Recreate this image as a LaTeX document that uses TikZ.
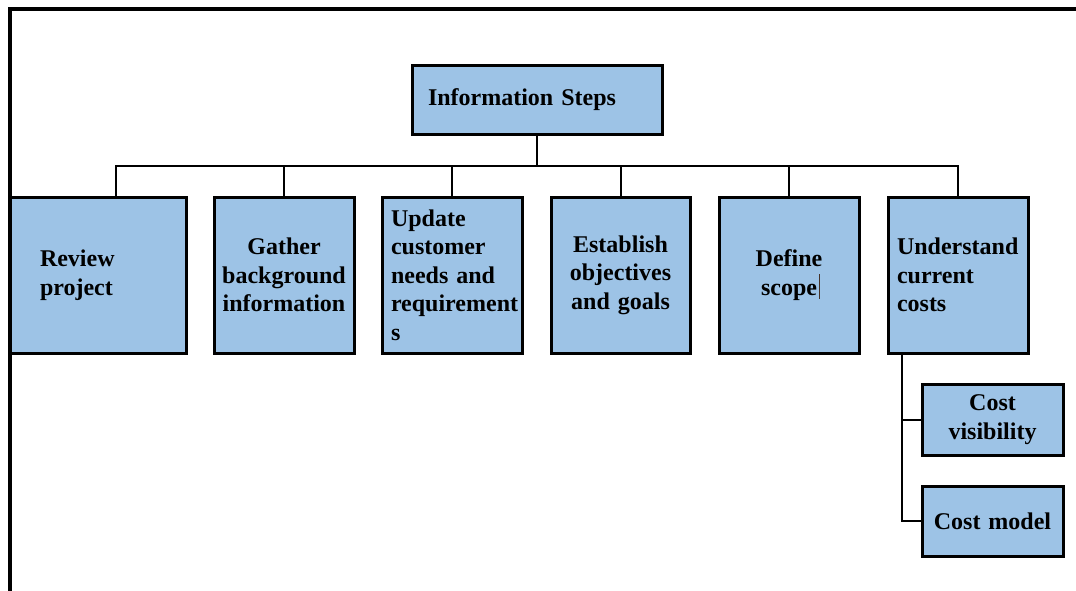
\documentclass[tikz,border=0pt]{standalone}
\usepackage{fontspec}
\setmainfont{Liberation Serif}
\definecolor{boxblue}{RGB}{157,195,230}
\begin{document}
\begin{tikzpicture}[x=1pt,y=-1pt,
  stepbox/.style={draw=black, line width=3pt, fill=boxblue, inner ysep=0pt,
    font=\fontsize{24}{28.5}\selectfont\bfseries},
  wire/.style={draw=black, line width=2pt}]
\useasboundingbox (0,0) rectangle (1076,590);
\fill[white] (0,0) rectangle (1076,590);

% outer frame (top and left rules)
\draw[line width=4.5pt] (10,600) -- (10,9) -- (1090,9);

% root
\node[stepbox, minimum width=250pt, minimum height=69pt, inner xsep=16pt,
  text width=218pt, align=left] (info) at (537,99.5) {Information Steps};

% first level
\node[stepbox, minimum width=176pt, minimum height=156pt, inner xsep=30pt,
  text width=116pt, align=left] (rev) at (98,275) {Review\\project};
\node[stepbox, minimum width=140pt, minimum height=156pt, inner xsep=4pt,
  text width=132pt, align=center] (gat) at (284,275) {Gather\\background\\information};
\node[stepbox, minimum width=140pt, minimum height=156pt, inner xsep=9pt,
  text width=122pt, align=left] (upd) at (452,275) {Update\\customer\\needs and\\requirement\\s};
\node[stepbox, minimum width=139pt, minimum height=156pt, inner xsep=4pt,
  text width=131pt, align=center] (est) at (620.5,275) {Establish\\objectives\\and goals};
\node[stepbox, minimum width=140pt, minimum height=156pt, inner xsep=4pt,
  text width=132pt, align=center] (def) at (789,275)
  {Define\\scope\rlap{\hspace{1.5pt}\color[RGB]{70,50,40}\rule[-4pt]{0.9pt}{25pt}}};
\node[stepbox, minimum width=140pt, minimum height=156pt, inner xsep=9pt,
  text width=122pt, align=left] (und) at (958,275) {Understand\\current\\costs};

% second level under "Understand current costs"
\node[stepbox, minimum width=141pt, minimum height=71pt, inner xsep=4pt,
  text width=133pt, align=center] (cv) at (992.5,419.5) {Cost\\visibility};
\node[stepbox, minimum width=141pt, minimum height=70pt, inner xsep=4pt,
  text width=133pt, align=center] (cm) at (992.5,521) {Cost model};

% connectors
\coordinate (bus) at (537,166);
\draw[wire] (info.south) -- (bus);
\draw[wire] (bus) -| ([xshift=18pt]rev.north);
\draw[wire] (bus) -| (gat.north);
\draw[wire] (bus) -| (upd.north);
\draw[wire] (bus) -| (est.north);
\draw[wire] (bus) -| (def.north);
\draw[wire] (bus) -| (und.north);
\coordinate (trunk) at ([xshift=15pt]und.south west);
\draw[wire] (trunk) |- (cv.west);
\draw[wire] (trunk) |- (cm.west);
\end{tikzpicture}
\end{document}
